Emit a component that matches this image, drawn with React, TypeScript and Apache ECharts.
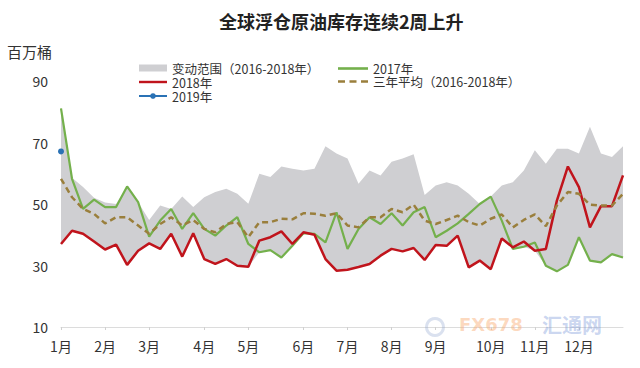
import React, { useEffect, useRef } from "react";
import * as echarts from "echarts";

const weeks = Array.from({ length: 52 }, (_, i) => `第${i + 1}周`);
const monthLabels = ["1月", "2月", "3月", "4月", "5月", "6月", "7月", "8月", "9月", "10月", "11月", "12月"];
const monthWeekIndex = [0, 4, 8, 13, 17, 22, 26, 30, 34, 39, 43, 47];
const yTicks = { min: 10, max: 90, interval: 20 };

const rangeLow = [
  37.0, 41.3, 40.3, 37.8, 35.2, 36.8, 30.2, 34.8, 37.2, 35.4, 40.3, 32.9, 40.5,
  32.1, 30.5, 32.1, 29.9, 29.6, 34.3, 35.0, 32.6, 36.4, 40.5, 40.0, 32.1, 28.3,
  28.8, 29.5, 30.5, 33.2, 35.4, 34.6, 35.7, 31.8, 36.7, 36.4, 39.7, 29.4, 31.6,
  28.8, 38.8, 35.4, 36.1, 34.8, 29.9, 28.1, 30.2, 39.2, 31.6, 31.0, 33.7, 32.6,
];
const rangeHigh = [
  81.1, 58.5, 55.5, 52.0, 50.5, 50.0, 55.7, 50.6, 44.8, 49.5, 48.4, 52.4, 49.0,
  52.2, 53.9, 55.0, 53.3, 50.1, 59.8, 58.8, 62.2, 61.5, 60.9, 61.5, 68.8, 66.4,
  64.8, 56.6, 60.9, 59.3, 63.7, 64.8, 66.2, 52.9, 56.0, 57.1, 56.0, 53.3, 50.0,
  52.4, 56.0, 57.1, 60.9, 67.5, 63.1, 68.0, 68.0, 66.4, 75.1, 66.4, 65.3, 68.8,
];
const s2017 = [
  81.1, 58.2, 48.4, 51.4, 49.0, 49.0, 55.7, 50.6, 39.4, 44.6, 48.4, 41.9, 47.0,
  41.9, 39.7, 43.0, 45.7, 37.0, 34.3, 35.0, 32.6, 36.4, 40.5, 40.3, 37.5, 47.3,
  35.4, 41.9, 45.7, 43.5, 47.0, 43.0, 47.3, 49.0, 39.2, 41.3, 43.7, 46.8, 50.0,
  52.4, 44.6, 35.4, 36.1, 37.5, 29.9, 28.1, 30.2, 39.2, 31.6, 31.0, 33.7, 32.6,
];
const s2018 = [
  37.0, 41.3, 40.3, 37.8, 35.2, 36.8, 30.2, 34.8, 37.2, 35.4, 40.3, 32.9, 40.5,
  32.1, 30.5, 32.1, 29.9, 29.6, 38.1, 39.2, 41.1, 37.0, 40.8, 40.0, 32.1, 28.3,
  28.6, 29.5, 30.5, 33.2, 35.4, 34.6, 35.7, 31.8, 36.7, 36.4, 39.7, 29.4, 31.6,
  28.8, 38.8, 35.9, 37.8, 34.8, 35.4, 51.1, 62.2, 55.5, 42.4, 49.3, 49.3, 59.3,
];
const avg3y = [
  58.2, 52.2, 48.4, 46.8, 43.7, 45.7, 45.7, 43.0, 40.3, 43.5, 45.7, 43.0, 44.8,
  41.9, 40.8, 43.5, 44.1, 39.2, 44.1, 44.1, 45.2, 45.0, 47.0, 46.8, 46.2, 47.0,
  43.0, 42.4, 45.7, 45.7, 48.4, 47.3, 49.8, 44.6, 43.5, 44.8, 46.2, 44.1, 43.0,
  45.2, 46.6, 42.4, 44.8, 46.6, 42.8, 49.5, 53.9, 53.3, 49.8, 49.5, 49.5, 53.3,
];
const s2019 = [67.1];

const NAME_RANGE = "变动范围（2016-2018年）";
const NAME_2017 = "2017年";
const NAME_2018 = "2018年";
const NAME_AVG = "三年平均（2016-2018年）";
const NAME_2019 = "2019年";

const FONT = "'Noto Sans CJK SC', 'Noto Sans', sans-serif";
const ICON_SOLID = "path://M0,0h30v2.6h-30z";
const ICON_DASH = "path://M0,0h7v2.6h-7zM11.5,0h7v2.6h-7zM23,0h7v2.6h-7z";

export default function App() {
  const ref = useRef<HTMLDivElement>(null);
  useEffect(() => {
    if (!ref.current) return;
    const chart = echarts.init(ref.current, undefined, { renderer: "svg" });
    const band = rangeHigh.map((h, i) => +(h - rangeLow[i]).toFixed(2));
    const isMonth = (idx: number) => monthWeekIndex.indexOf(idx) >= 0;
    chart.setOption({
      animation: false,
      textStyle: { fontFamily: FONT },
      title: {
        text: "全球浮仓原油库存连续2周上升",
        left: 219,
        top: 12,
        padding: 0,
        textStyle: { fontSize: 18, fontWeight: "bold", color: "#222", fontFamily: FONT },
      },
      legend: [
        {
          orient: "vertical",
          left: 138,
          top: 61,
          padding: 0,
          itemGap: 0,
          itemWidth: 28,
          itemHeight: 7,
          textStyle: { fontSize: 12.5, color: "#333", lineHeight: 14, fontFamily: FONT },
          data: [
            { name: NAME_RANGE, icon: "rect" },
            { name: NAME_2018, icon: ICON_SOLID },
            { name: NAME_2019 },
          ],
        },
        {
          orient: "vertical",
          left: 338,
          top: 62,
          padding: 0,
          itemGap: 0,
          itemWidth: 30,
          itemHeight: 7,
          textStyle: { fontSize: 12.5, color: "#333", lineHeight: 13, fontFamily: FONT },
          data: [
            { name: NAME_2017, icon: ICON_SOLID },
            { name: NAME_AVG, icon: ICON_DASH },
          ],
        },
      ],
      grid: { left: 61, right: 17, top: 81, bottom: 41 },
      xAxis: {
        type: "category",
        data: weeks,
        boundaryGap: false,
        axisLine: { lineStyle: { color: "#dcdcdc", width: 1 } },
        axisTick: {
          show: true,
          length: 3,
          interval: (idx: number) => isMonth(idx),
          lineStyle: { color: "#d0d0d0" },
        },
        axisLabel: {
          interval: (idx: number) => isMonth(idx),
          formatter: (_v: string, idx: number) => monthLabels[monthWeekIndex.indexOf(idx)] ?? "",
          fontSize: 14,
          color: "#333",
          margin: 12,
          fontFamily: FONT,
        },
        splitLine: { show: false },
      },
      yAxis: {
        type: "value",
        min: yTicks.min,
        max: yTicks.max,
        interval: yTicks.interval,
        axisLine: { show: false },
        axisTick: { show: false },
        splitLine: { show: false },
        axisLabel: { fontSize: 14, color: "#333", margin: 13, fontFamily: FONT },
      },
      graphic: [
        {
          type: "text",
          left: 7,
          top: 44,
          style: { text: "百万桶", fontSize: 15, fill: "#333", fontFamily: FONT },
        },
        {
          type: "ring",
          shape: { cx: 435, cy: 327, r: 10, r0: 7 },
          style: { fill: "rgba(150,170,210,0.35)" },
          z: 100,
        },
        {
          type: "text",
          left: 459,
          top: 315,
          style: {
            text: "FX678",
            fontSize: 18,
            fontWeight: "bold",
            fill: "rgba(250,170,110,0.45)",
            fontFamily: "'DejaVu Sans', sans-serif",
          },
          z: 100,
        },
        {
          type: "text",
          left: 542,
          top: 314,
          style: {
            text: "汇通网",
            fontSize: 20,
            fontWeight: "bold",
            fill: "rgba(120,150,215,0.4)",
            fontFamily: FONT,
          },
          z: 100,
        },
      ],
      series: [
        {
          name: "rangeLow",
          type: "line",
          stack: "range",
          data: rangeLow,
          symbol: "none",
          lineStyle: { opacity: 0 },
          silent: true,
          z: 1,
        },
        {
          name: NAME_RANGE,
          type: "line",
          stack: "range",
          data: band,
          symbol: "none",
          itemStyle: { color: "#cfcfd2" },
          lineStyle: { opacity: 0, color: "#cfcfd2" },
          areaStyle: { color: "#cfcfd2", opacity: 1 },
          z: 1,
        },
        {
          name: NAME_2017,
          type: "line",
          data: s2017,
          symbol: "none",
          itemStyle: { color: "#74b04c" },
          lineStyle: { color: "#74b04c", width: 2.2 },
          z: 3,
        },
        {
          name: NAME_2018,
          type: "line",
          data: s2018,
          symbol: "none",
          itemStyle: { color: "#c0141c" },
          lineStyle: { color: "#c0141c", width: 2.5 },
          z: 4,
        },
        {
          name: NAME_AVG,
          type: "line",
          data: avg3y,
          symbol: "none",
          itemStyle: { color: "#9a7f3c" },
          lineStyle: { color: "#9a7f3c", width: 2.5, type: [6, 4] },
          z: 5,
        },
        {
          name: NAME_2019,
          type: "line",
          data: s2019,
          symbol: "circle",
          symbolSize: 6,
          showSymbol: true,
          itemStyle: { color: "#2a72b5" },
          lineStyle: { color: "#2a72b5", width: 2 },
          z: 6,
        },
      ],
    });
    return () => chart.dispose();
  }, []);
  return (
    <div
      ref={ref}
      style={{ position: "fixed", left: 0, top: 0, width: 640, height: 368, background: "#fff" }}
    />
  );
}
